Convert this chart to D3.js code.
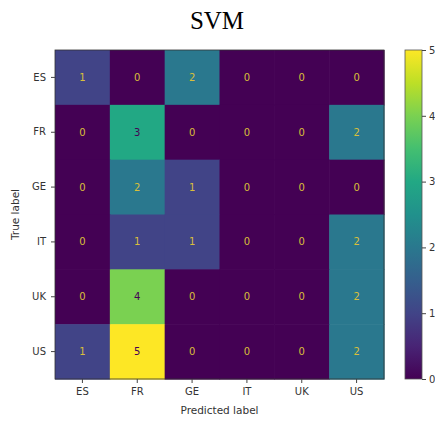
<!DOCTYPE html>
<html lang="en">
<head>
  <meta charset="UTF-8">
  <title>SVM</title>
  <style>
    body { margin: 0; background: #fff; }
    text { font-family: "DejaVu Sans", sans-serif; }
  </style>
</head>
<body>
  <script src="https://d3js.org/d3.v7.min.js"></script>
  <svg id="chart" width="435" height="423"></svg>
  <script>
    // labels + confusion matrix counts (rows = true, cols = predicted)
    const labels = ["ES", "FR", "GE", "IT", "UK", "US"];
    const rowES = [1, 0, 2, 0, 0, 0];
    const rowFR = [0, 3, 0, 0, 0, 2];
    const rowGE = [0, 2, 1, 0, 0, 0];
    const rowIT = [0, 1, 1, 0, 0, 2];
    const rowUK = [0, 4, 0, 0, 0, 2];
    const rowUS = [1, 5, 0, 0, 0, 2];
    const rows = [rowES, rowFR, rowGE, rowIT, rowUK, rowUS];
    const cbarTicks = [0, 1, 2, 3, 4, 5];

    const svg = d3.select("svg#chart");
    const mLeft = 55, mTop = 50, size = 329;

    const x = d3.scaleBand().domain(labels).range([mLeft, mLeft + size]);
    const y = d3.scaleBand().domain(labels).range([mTop, mTop + size]);
    const color = d3.scaleSequential(d3.interpolateViridis).domain([0, 5]);

    // title
    svg.append("text")
      .attr("x", 217).attr("y", 29)
      .attr("text-anchor", "middle")
      .style("font-family", "'Liberation Serif', 'Times New Roman', serif")
      .style("font-size", "25px")
      .text("SVM");

    // cells
    const cells = [];
    rows.forEach((r, i) => r.forEach((v, j) => cells.push({ t: labels[i], p: labels[j], v: v })));

    // slight overlap so no seams show between neighbouring cells
    svg.selectAll("rect.cell").data(cells).enter().append("rect")
      .attr("class", "cell")
      .attr("x", d => x(d.p)).attr("y", d => y(d.t))
      .attr("width", x.bandwidth() + 0.6).attr("height", y.bandwidth() + 0.6)
      .attr("fill", d => color(d.v));

    svg.selectAll("text.val").data(cells).enter().append("text")
      .attr("class", "val")
      .attr("x", d => x(d.p) + x.bandwidth() / 2)
      .attr("y", d => y(d.t) + y.bandwidth() / 2)
      .attr("text-anchor", "middle")
      .attr("dominant-baseline", "central")
      .style("font-size", "10px")
      .attr("fill", d => d.v >= 2.5 ? "#440154" : "#d9bf3a")
      .text(d => d.v);

    // frame
    svg.append("rect")
      .attr("x", mLeft).attr("y", mTop).attr("width", size).attr("height", size)
      .attr("fill", "none").attr("stroke", "#333").attr("stroke-width", 0.8);

    // axes
    const xAxis = svg.append("g")
      .attr("transform", "translate(0," + (mTop + size) + ")")
      .call(d3.axisBottom(x).tickSize(4).tickPadding(5));
    const yAxis = svg.append("g")
      .attr("transform", "translate(" + mLeft + ",0)")
      .call(d3.axisLeft(y).tickSize(4).tickPadding(5));
    [xAxis, yAxis].forEach(g => {
      g.select(".domain").remove();
      g.selectAll("line").attr("stroke", "#444");
      g.selectAll("text").attr("fill", "#333").style("font-size", "10px")
        .style("font-family", "'DejaVu Sans', sans-serif");
    });

    svg.append("text")
      .attr("x", mLeft + size / 2).attr("y", 414)
      .attr("text-anchor", "middle").attr("fill", "#333")
      .style("font-size", "10.5px")
      .text("Predicted label");

    svg.append("text")
      .attr("transform", "translate(19," + (mTop + size / 2) + ") rotate(-90)")
      .attr("text-anchor", "middle").attr("fill", "#333")
      .style("font-size", "10.5px")
      .text("True label");

    // colorbar
    const cbX = 405, cbW = 17;
    const cy = d3.scaleLinear().domain([0, 5]).range([mTop + size, mTop]);
    const defs = svg.append("defs");
    const grad = defs.append("linearGradient").attr("id", "vir")
      .attr("x1", 0).attr("y1", 1).attr("x2", 0).attr("y2", 0);
    d3.range(0, 1.01, 0.1).forEach(t => {
      grad.append("stop").attr("offset", t).attr("stop-color", d3.interpolateViridis(t));
    });
    svg.append("rect")
      .attr("x", cbX).attr("y", mTop).attr("width", cbW).attr("height", size)
      .attr("fill", "url(#vir)").attr("stroke", "#555").attr("stroke-width", 0.8);
    const cAxis = svg.append("g")
      .attr("transform", "translate(" + (cbX + cbW) + ",0)")
      .call(d3.axisRight(cy).tickValues(cbarTicks).tickSize(4).tickPadding(3));
    cAxis.select(".domain").remove();
    cAxis.selectAll("line").attr("stroke", "#444");
    cAxis.selectAll("text").attr("fill", "#333").style("font-size", "10px")
      .style("font-family", "'DejaVu Sans', sans-serif");
  </script>
</body>
</html>
